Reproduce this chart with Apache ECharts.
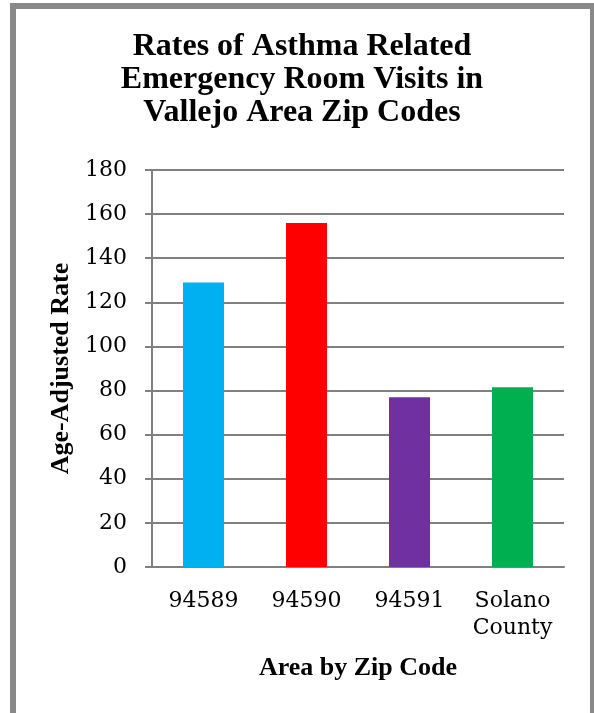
<!DOCTYPE html>
<html>
<head>
<meta charset="utf-8">
<script src="https://cdn.jsdelivr.net/npm/echarts@6/dist/echarts.min.js"></script>
<style>
  html, body { margin: 0; padding: 0; background: #fff; }
  #chart { width: 594px; height: 713px; }
</style>
</head>
<body>
<div id="chart"></div>
<script>
// 数据
var categories = ['94589', '94590', '94591', 'Solano\nCounty'];
var rates = [129, 156, 77, 81.5];
var barColors = ['#00B0F0', '#FF0000', '#7030A0', '#00B050'];
var yTicks = { min: 0, max: 180, interval: 20 };

var chart = echarts.init(document.getElementById('chart'));

chart.setOption({
  backgroundColor: '#ffffff',
  animation: false,
  graphic: [{
    type: 'rect',
    shape: { x: 13, y: 6, width: 580, height: 740 },
    style: { fill: 'none', stroke: '#898989', lineWidth: 6 },
    silent: true
  }],
  title: {
    text: 'Rates of Asthma Related\nEmergency Room Visits in\nVallejo Area Zip Codes',
    left: 297,
    top: 25,
    textAlign: 'center',
    textStyle: {
      fontFamily: 'Liberation Serif',
      fontWeight: 'bold',
      fontSize: 32,
      lineHeight: 33,
      color: '#000'
    }
  },
  grid: { left: 152, right: 30, top: 170, bottom: 146, containLabel: false },
  xAxis: {
    type: 'category',
    data: categories,
    name: 'Area by Zip Code',
    nameLocation: 'middle',
    nameGap: 88,
    nameTextStyle: {
      fontFamily: 'Liberation Serif',
      fontWeight: 'bold',
      fontSize: 26,
      color: '#000'
    },
    axisLine: { show: true, lineStyle: { color: '#808080', width: 2 } },
    axisTick: { show: false },
    axisLabel: {
      margin: 21,
      interval: 0,
      fontFamily: 'DejaVu Serif',
      fontSize: 22,
      lineHeight: 27,
      color: '#000'
    },
    splitLine: { show: false }
  },
  yAxis: {
    type: 'value',
    min: yTicks.min,
    max: yTicks.max,
    interval: yTicks.interval,
    name: 'Age-Adjusted Rate',
    nameLocation: 'middle',
    nameGap: 78,
    nameTextStyle: {
      fontFamily: 'Liberation Serif',
      fontWeight: 'bold',
      fontSize: 26,
      color: '#000'
    },
    axisLine: { show: true, lineStyle: { color: '#808080', width: 2 } },
    axisTick: { show: true, length: 7, lineStyle: { color: '#808080', width: 2 } },
    axisLabel: {
      margin: 25,
      fontFamily: 'DejaVu Serif',
      fontSize: 22,
      color: '#000'
    },
    splitLine: { show: true, lineStyle: { color: '#808080', width: 2 } }
  },
  series: [{
    type: 'bar',
    barWidth: 41,
    data: rates.map(function (v, i) {
      return { value: v, itemStyle: { color: barColors[i] } };
    })
  }]
});

window.addEventListener('resize', function () { chart.resize(); });
</script>
</body>
</html>
